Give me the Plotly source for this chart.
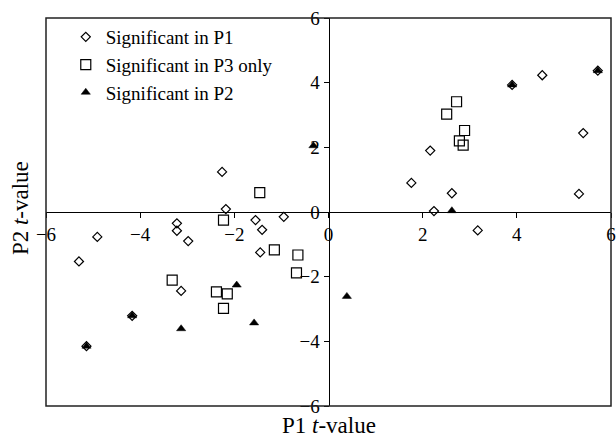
import plotly.graph_objects as go

# Significant in P1 (diamonds)
p1_x = [3.90, 4.54, 5.72, 2.16, 5.41, 1.76, 2.62, 5.32, 2.24, 3.17,
        -2.26, -2.18, -3.22, -3.22, -2.98, -4.91, -5.30, -1.55, -1.41, -0.95,
        -1.45, -3.13, -4.17, -5.14]
p1_y = [3.93, 4.23, 4.37, 1.90, 2.44, 0.90, 0.58, 0.56, 0.03, -0.57,
        1.24, 0.09, -0.35, -0.58, -0.90, -0.77, -1.53, -0.25, -0.55, -0.15,
        -1.25, -2.44, -3.21, -4.15]

# Significant in P3 only (squares)
p3_x = [2.72, 2.51, 2.89, 2.78, 2.86, -1.46, -2.23, -1.15, -0.65, -0.68,
        -3.32, -2.38, -2.15, -2.23]
p3_y = [3.41, 3.03, 2.52, 2.20, 2.07, 0.60, -0.25, -1.17, -1.33, -1.88,
        -2.11, -2.47, -2.53, -2.98]

# Significant in P2 (triangles)
p2_x = [3.90, 5.72, -0.32, 2.62, 0.39, -1.95, -1.58, -3.13, -4.17, -5.14]
p2_y = [3.93, 4.37, 2.05, 0.04, -2.61, -2.26, -3.43, -3.61, -3.21, -4.15]

tick_vals = [-6, -4, -2, 0, 2, 4, 6]

FONT = "Liberation Serif, Times New Roman, serif"

fig = go.Figure()
fig.add_trace(go.Scatter(
    x=p1_x, y=p1_y, mode="markers", name="Significant in P1",
    marker=dict(symbol="diamond-open", size=7, color="black",
                line=dict(width=1.2, color="black")),
))
fig.add_trace(go.Scatter(
    x=p3_x, y=p3_y, mode="markers", name="Significant in P3 only",
    marker=dict(symbol="square-open", size=10, color="black",
                line=dict(width=1.2, color="black")),
))
fig.add_trace(go.Scatter(
    x=p2_x, y=p2_y, mode="markers", name="Significant in P2",
    marker=dict(symbol="triangle-up", size=8, color="black",
                line=dict(width=0.5, color="black")),
))

axis_common = dict(
    range=[-6, 6], autorange=False, tickvals=tick_vals,
    showgrid=False, zeroline=False, showline=True, linecolor="black",
    linewidth=1, ticks="outside", ticklen=5, tickwidth=1, tickcolor="black",
    tickfont=dict(family=FONT, size=19, color="black"),
    anchor="free", position=0.5, fixedrange=True, automargin=False,
)

fig.update_layout(
    width=616, height=437,
    margin=dict(l=46, r=5, t=18, b=31, autoexpand=False),
    paper_bgcolor="white", plot_bgcolor="white",
    font=dict(family=FONT, color="black"),
    xaxis=dict(**axis_common, side="bottom"),
    yaxis=dict(**axis_common, side="left"),
    showlegend=True,
    legend=dict(
        x=0.035, y=1.0, xanchor="left", yanchor="top",
        bgcolor="rgba(0,0,0,0)", borderwidth=0,
        font=dict(family=FONT, size=19, color="black"),
        tracegroupgap=0, itemsizing="trace",
    ),
    shapes=[dict(type="rect", xref="paper", yref="paper", x0=0, y0=0, x1=1, y1=1,
                 line=dict(color="#222222", width=1.5), layer="above")],
    annotations=[
        dict(text="P1 <i>t</i>-value", xref="paper", yref="paper",
             x=0.5, y=0, yshift=-19, xanchor="center", yanchor="middle",
             showarrow=False, font=dict(family=FONT, size=23, color="black")),
        dict(text="P2 <i>t</i>-value", xref="paper", yref="paper",
             x=0, xshift=-26, y=0.51, xanchor="center", yanchor="middle",
             textangle=-90, showarrow=False,
             font=dict(family=FONT, size=23, color="black")),
    ],
)

fig.write_html(
    "out.html",
    config={"displayModeBar": False, "staticPlot": True},
    post_script="document.body.style.margin='0';document.body.style.padding='0';",
)
